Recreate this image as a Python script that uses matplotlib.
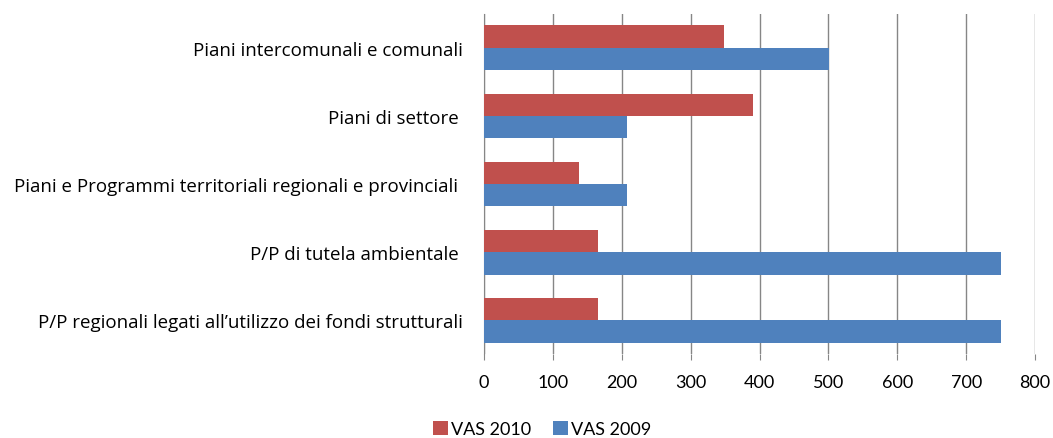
import numpy as np
import matplotlib
matplotlib.use("Agg")
import matplotlib.pyplot as plt

categories = [
    "Piani intercomunali e comunali",
    "Piani di settore ",
    "Piani e Programmi territoriali regionali e provinciali ",
    "P/P di tutela ambientale ",
    "P/P regionali legati all\u2019utilizzo dei fondi strutturali",
]
vas_2010 = [348, 391, 138, 165, 165]
vas_2009 = [501, 207, 207, 751, 751]
xticks = [0, 100, 200, 300, 400, 500, 600, 700, 800]

plt.rcParams['font.family'] = ['Lato', 'DejaVu Sans']

fig = plt.figure(figsize=(10.53, 4.39), dpi=100)
ax = fig.add_axes([0.4597, 0.191, 0.5233, 0.775])

y = np.arange(len(categories))
h = 0.33
ax.barh(y - h / 2, vas_2010, height=h, color='#C0504D', label='VAS 2010', zorder=3)
ax.barh(y + h / 2, vas_2009, height=h, color='#4F81BD', label='VAS 2009', zorder=3)

ax.set_ylim(len(categories) - 0.5, -0.5)
ax.set_xlim(0, 800)
ax.set_xticks(xticks)
ax.set_yticks(y)
ax.set_yticklabels(categories, fontsize=13.5, family=['Open Sans', 'DejaVu Sans'])
ax.tick_params(axis='x', labelsize=13, length=4, color='#868686', pad=10)
ax.tick_params(axis='y', length=0, pad=15)
ax.grid(axis='x', color='#868686', linewidth=1, zorder=0)

for s in ['top', 'right', 'bottom']:
    ax.spines[s].set_visible(False)
ax.spines['left'].set_color('#868686')

fig.legend(loc='lower center', bbox_to_anchor=(0.515, -0.035), ncol=2, frameon=False,
           fontsize=13, handlelength=0.8, handleheight=0.8, handletextpad=0.2,
           columnspacing=1.2)

fig.savefig('out.png', dpi=100)
